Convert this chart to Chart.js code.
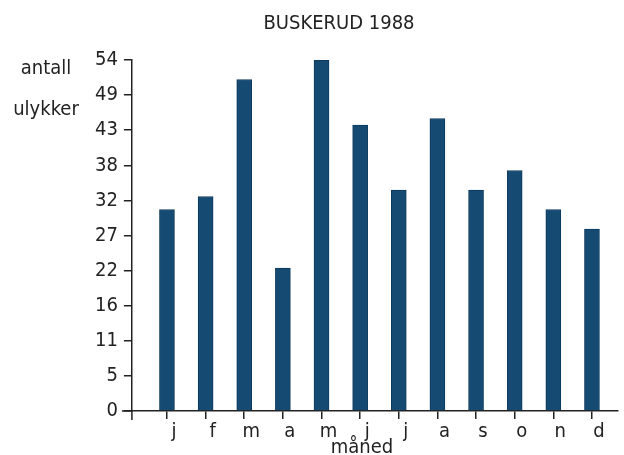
<!DOCTYPE html>
<html>
<head>
<meta charset="utf-8">
<script src="https://cdn.jsdelivr.net/npm/chart.js@4"></script>
<style>
  html, body { margin: 0; padding: 0; background: #fff; }
  #wrap { width: 624px; height: 455px; }
</style>
</head>
<body>
<div id="wrap"><canvas id="chart"></canvas></div>
<script>
// Data
const months = ['j', 'f', 'm', 'a', 'm', 'j', 'j', 'a', 's', 'o', 'n', 'd'];
const accidents = [31, 33, 51, 22, 54, 44, 34, 45, 34, 37, 31, 28];
const yTickValues = [0, 5.4, 10.8, 16.2, 21.6, 27, 32.4, 37.8, 43.2, 48.6, 54];
const yTickLabels = ['0', '5', '11', '16', '22', '27', '32', '38', '43', '49', '54'];

const FONT = '"Liberation Sans Narrow", "DejaVu Sans Condensed", sans-serif';
const INK = '#222';

// title, side texts and the little axis overhangs
const extras = {
  id: 'extras',
  afterDraw(chart) {
    const ctx = chart.ctx;
    const area = chart.chartArea;
    ctx.save();
    ctx.strokeStyle = INK;
    ctx.lineWidth = 1.5;
    ctx.beginPath();
    ctx.moveTo(area.left, area.bottom);
    ctx.lineTo(area.left, area.bottom + 9);
    ctx.moveTo(area.left - 10, area.bottom);
    ctx.lineTo(area.left, area.bottom);
    ctx.stroke();

    ctx.font = '20px ' + FONT;
    ctx.fillStyle = INK;
    ctx.textAlign = 'center';
    ctx.textBaseline = 'alphabetic';
    ctx.fillText('BUSKERUD 1988', 339, 29);
    ctx.fillText('antall', 46, 74);
    ctx.fillText('ulykker', 46, 115);
    ctx.fillText('måned', 362, 453);
    ctx.restore();
  }
};

const ctx = document.getElementById('chart').getContext('2d');
const chart = new Chart(ctx, {
  type: 'bar',
  data: {
    datasets: [{
      data: accidents.map((v, i) => ({ x: i + 1, y: v })),
      backgroundColor: '#154a72',
      borderColor: '#0d3a5c',
      borderWidth: 1,
      barThickness: 15
    }]
  },
  options: {
    responsive: true,
    maintainAspectRatio: false,
    animation: false,
    layout: { padding: { left: 89, right: 6, bottom: 10, top: 60 } },
    plugins: {
      legend: { display: false },
      tooltip: { enabled: false },
      title: { display: false }
    },
    scales: {
      x: {
        type: 'linear',
        offset: false,
        min: 0.092,
        max: 12.674,
        afterBuildTicks: scale => { scale.ticks = months.map((m, i) => ({ value: i + 1 })); },
        ticks: {
          autoSkip: false,
          maxRotation: 0,
          color: INK,
          padding: 1,
          labelOffset: 7,
          font: { family: FONT, size: 20 },
          callback: (v, i) => months[i]
        },
        grid: { offset: false, drawOnChartArea: false, tickLength: 8, color: INK, lineWidth: 1.5 },
        border: { color: INK, width: 1.5 }
      },
      y: {
        min: 0,
        max: 54,
        afterBuildTicks: scale => { scale.ticks = yTickValues.map(v => ({ value: v })); },
        ticks: {
          autoSkip: false,
          color: INK,
          padding: 6,
          font: { family: FONT, size: 20 },
          callback: (v, i) => yTickLabels[i]
        },
        grid: { drawOnChartArea: false, tickLength: 8, color: INK, lineWidth: 1.5 },
        border: { color: INK, width: 1.5 }
      }
    }
  },
  plugins: [extras]
});
</script>
</body>
</html>
